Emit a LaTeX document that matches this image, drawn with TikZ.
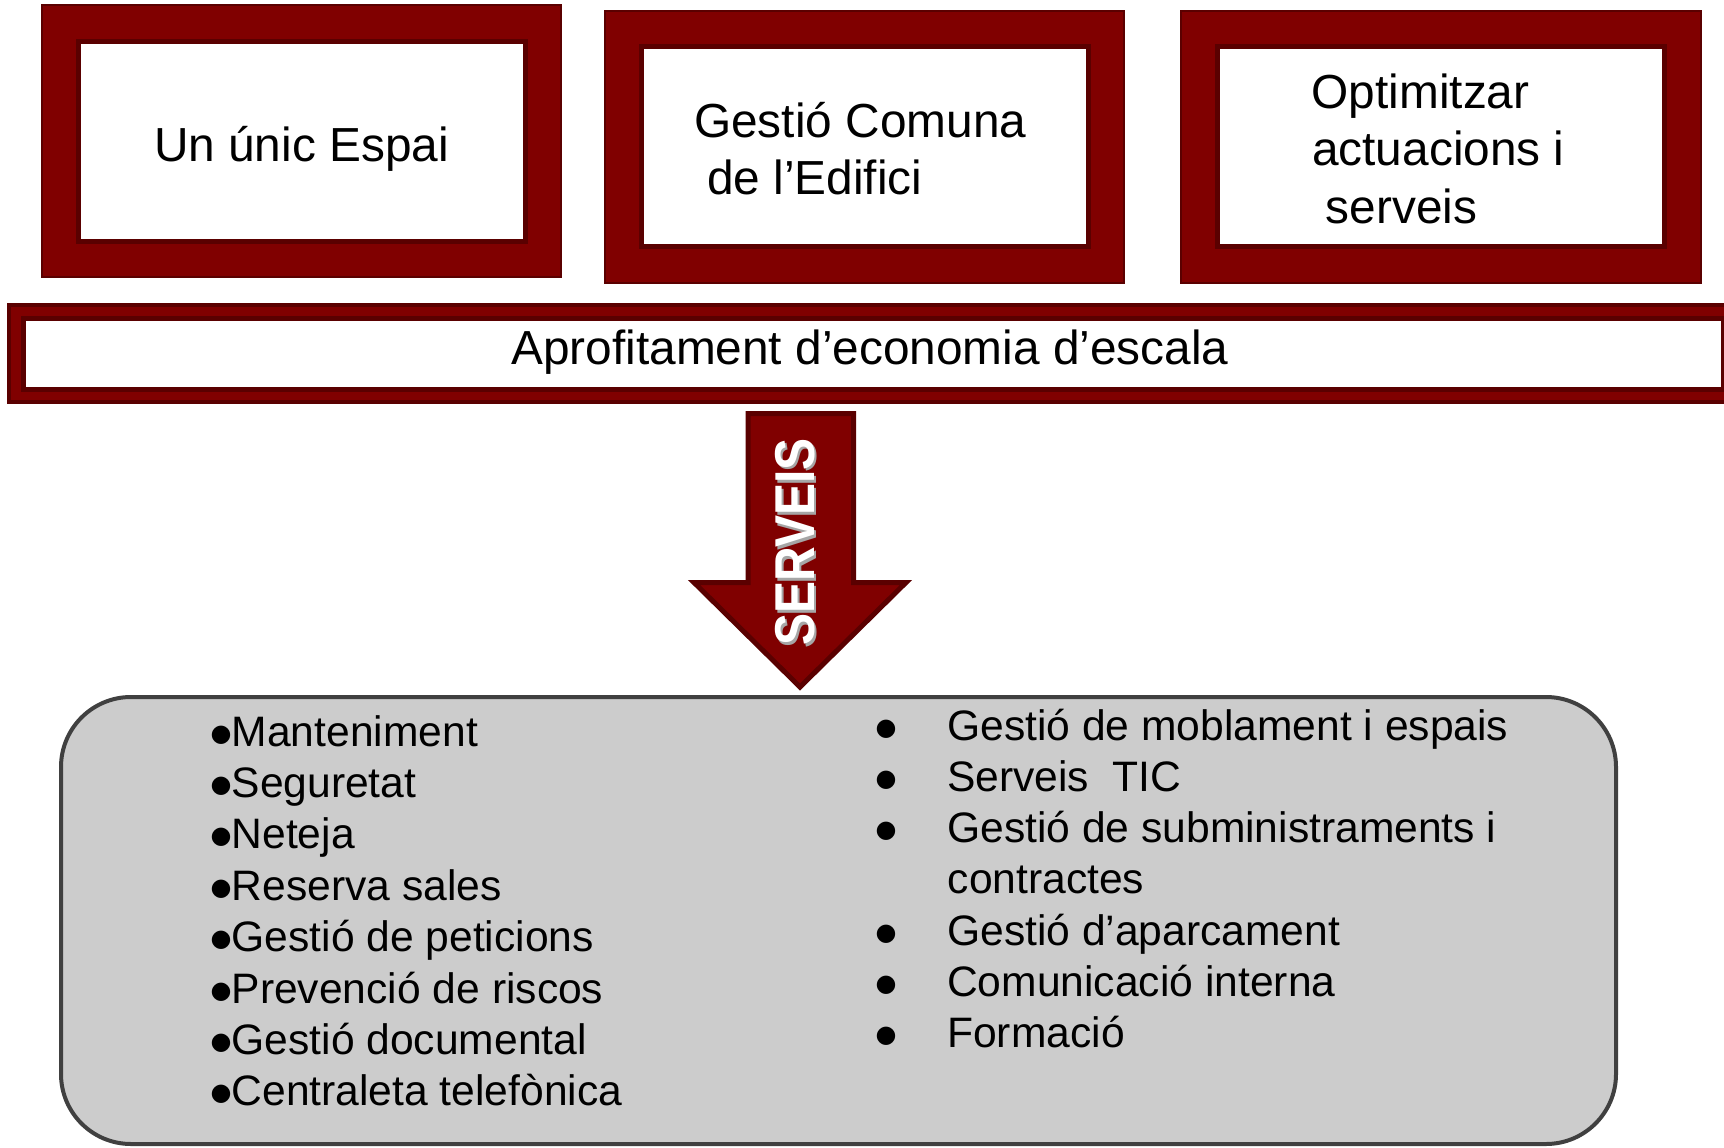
\documentclass[tikz,border=0pt]{standalone}
\usepackage{fontspec}
\setmainfont{Liberation Sans}
\newfontfamily\djv{DejaVu Sans}
\usepackage{graphicx}
\definecolor{mred}{HTML}{800000}
\definecolor{dred}{HTML}{5A0000}
\definecolor{boxgray}{HTML}{CCCCCC}
\definecolor{boxline}{HTML}{404040}
\newcommand{\bigbul}{\raisebox{5pt}{\djv\fontsize{24}{24}\selectfont ●}}
\tikzset{
  frameout/.style={fill=mred, draw=dred, line width=2pt},
  framein/.style={fill=white, draw=dred, line width=5pt},
  bigtxt/.style={font=\fontsize{47.8}{57.5}\selectfont, inner sep=0pt},
  listtxt/.style={font=\fontsize{42.6}{51}\selectfont, inner sep=0pt},
  arrowshape/.style={fill=mred, draw=dred, line width=5pt, line join=miter},
  bottombox/.style={rounded corners=70pt, fill=boxgray, draw=boxline, line width=4pt},
}
\begin{document}
\begin{tikzpicture}[x=1pt,y=-1pt]
\clip (0,0) rectangle (1724,1148);
\fill[white] (0,0) rectangle (1724,1148);

% top frames
\path[frameout] (42,5) rectangle (561,277);
\path[framein] (78,41.7) rectangle (525.5,241.8);
\path[frameout] (605.3,10.7) rectangle (1124.2,282.7);
\path[framein] (641.5,46.5) rectangle (1088.7,246.5);
\path[frameout] (1181,10.7) rectangle (1700.9,282.7);
\path[framein] (1217.7,46.5) rectangle (1664.5,246.5);

\node[bigtxt, anchor=base] (t1) at (301.5,161) {Un únic Espai};
\node[bigtxt, anchor=base west] (t2a) at (694,137) {Gestió Comuna};
\node[bigtxt, anchor=base west] (t2b) at (707,194.6) {de l’Edifici};
\node[bigtxt, anchor=base west] (t3a) at (1311.5,108) {Optimitzar};
\node[bigtxt, anchor=base west] (t3b) at (1312,165.5) {actuacions i};
\node[bigtxt, anchor=base west] (t3c) at (1325.5,223) {serveis};

% band
\path[fill=mred, draw=dred, line width=4pt] (9,305) rectangle (1760,402);
\path[framein] (23.5,318) rectangle (1723.5,389.5);
\node[bigtxt, anchor=base] (band) at (870,364) {Aprofitament d’economia d’escala};

% arrow
\path[arrowshape] (748,413.5) -- (853.5,413.5) -- (853.5,582.5) -- (906,582.5)
  -- (800,687) -- (694,582.5) -- (748,582.5) -- cycle;
\node[inner sep=0pt, rotate=90, text=black!35, font=\fontsize{48}{48}\bfseries] (servsh) at (797.5,544.5) {\scalebox{1}[1.17]{SERVEIS}};
\node[inner sep=0pt, rotate=90, text=white, font=\fontsize{48}{48}\bfseries] (serv) at (795,542) {\scalebox{1}[1.17]{SERVEIS}};

% bottom box
\path[bottombox] (61,697) rectangle (1616,1144);

% left list
\node[listtxt, anchor=base west] (l1) at (210.5,746) {\bigbul Manteniment};
\node[listtxt, anchor=base west] (l2) at (210.5,797.4) {\bigbul Seguretat};
\node[listtxt, anchor=base west] (l3) at (210.5,848.8) {\bigbul Neteja};
\node[listtxt, anchor=base west] (l4) at (210.5,900.2) {\bigbul Reserva sales};
\node[listtxt, anchor=base west] (l5) at (210.5,951.6) {\bigbul Gestió de peticions};
\node[listtxt, anchor=base west] (l6) at (210.5,1003) {\bigbul Prevenció de riscos};
\node[listtxt, anchor=base west] (l7) at (210.5,1054.4) {\bigbul Gestió documental};
\node[listtxt, anchor=base west] (l8) at (210.5,1105.8) {\bigbul Centraleta telefònica};

% right list
\node[listtxt, anchor=base] (rb1) at (886,740) {\bigbul};
\node[listtxt, anchor=base west] (r1) at (947,740) {Gestió de moblament i espais};
\node[listtxt, anchor=base] (rb2) at (886,791.3) {\bigbul};
\node[listtxt, anchor=base west] (r2) at (947,791.3) {Serveis\ \ TIC};
\node[listtxt, anchor=base] (rb3) at (886,842.6) {\bigbul};
\node[listtxt, anchor=base west] (r3) at (947,842.6) {Gestió de subministraments i};
\node[listtxt, anchor=base west] (r3b) at (947.5,893.9) {contractes};
\node[listtxt, anchor=base] (rb4) at (886,945.2) {\bigbul};
\node[listtxt, anchor=base west] (r4) at (947,945.2) {Gestió d’aparcament};
\node[listtxt, anchor=base] (rb5) at (886,996.5) {\bigbul};
\node[listtxt, anchor=base west] (r5) at (947,996.5) {Comunicació interna};
\node[listtxt, anchor=base] (rb6) at (886,1047.8) {\bigbul};
\node[listtxt, anchor=base west] (r6) at (947,1047.8) {Formació};
\end{tikzpicture}
\end{document}
